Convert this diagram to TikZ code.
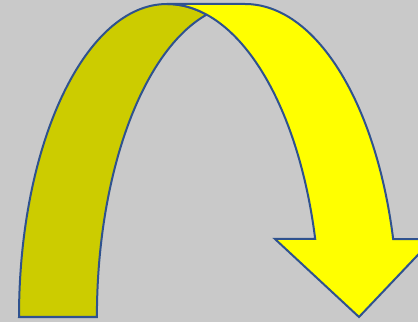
\documentclass[tikz,border=0pt]{standalone}
\definecolor{bg}{HTML}{C9C9C9}
\definecolor{darkyel}{HTML}{CCCC00}
\definecolor{yel}{HTML}{FFFF00}
\definecolor{edge}{HTML}{2F528F}
\begin{document}
\begin{tikzpicture}[x=1bp,y=1bp,
  band/.style={draw=edge, line width=2bp, line join=miter}]
\useasboundingbox (0,0) rectangle (418,322);
\fill[bg] (0,0) rectangle (418,322);
\clip (0,0) rectangle (418,322);
% back (dark) part of the band
\filldraw[band, fill=darkyel] (19,5)
  arc[start angle=180, end angle=90, x radius=148, y radius=313]
  arc[start angle=90, end angle=75, x radius=153, y radius=313]
  arc[start angle=105, end angle=180, x radius=148, y radius=313]
  -- cycle;
% front (yellow) part with arrow head
\filldraw[band, fill=yel] (167,318) -- (245,318)
  arc[start angle=90, end angle=14.43, x radius=153, y radius=313]
  -- (433,83) -- (359,5) -- (275,83) -- (315.2,83)
  arc[start angle=14.43, end angle=90, x radius=153, y radius=313]
  -- cycle;
\end{tikzpicture}
\end{document}
